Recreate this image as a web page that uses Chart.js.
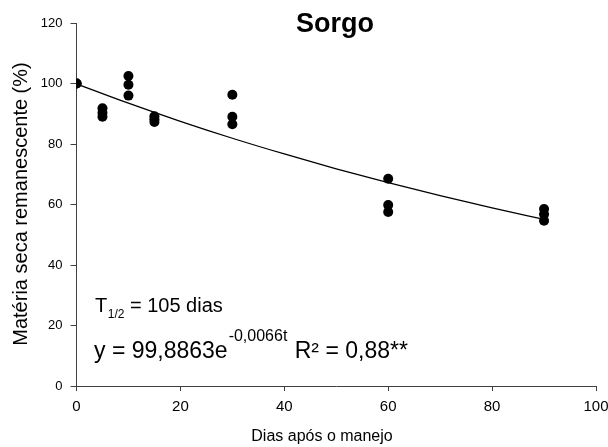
<!DOCTYPE html>
<html>
<head>
<meta charset="utf-8">
<script src="https://cdn.jsdelivr.net/npm/chart.js@4/dist/chart.umd.min.js"></script>
<style>
html,body{margin:0;padding:0;background:#fff;}
#wrap{width:608px;height:447px;position:relative;}
</style>
</head>
<body>
<div id="wrap"><canvas id="c" width="608" height="447"></canvas></div>
<script>
// Data
const dias = [0, 5, 10, 15, 30, 60, 90];
const rep1 = [100, 91.8, 102.5, 89.2, 96.3, 68.5, 58.5];
const rep2 = [100, 90.3, 99.6, 88.2, 89.0, 59.8, 56.8];
const rep3 = [100, 89.0, 96.0, 87.3, 86.5, 57.5, 54.6];
// Fitted curve (y = 99,8863e^-0,0066t)
const curveX = [0, 10, 20, 30, 40, 50, 60, 70, 80, 90];
const curveY = [99.9, 93.5, 87.5, 81.9, 76.7, 71.8, 67.2, 62.9, 58.9, 55.1];
const xTicks = [0, 20, 40, 60, 80, 100];
const yTicks = [0, 20, 40, 60, 80, 100, 120];

const titleText = 'Sorgo';
const xTitle = 'Dias após o manejo';
const yTitle = 'Matéria seca remanescente (%)';

const FONT = '"Liberation Sans", Arial, sans-serif';

const points = [];
[rep1, rep2, rep3].forEach(r => r.forEach((v, i) => points.push({x: dias[i], y: v})));
const curve = curveX.map((x, i) => ({x: x, y: curveY[i]}));

const textPlugin = {
  id: 'texts',
  afterDraw(chart) {
    const ctx = chart.ctx;
    ctx.save();
    ctx.fillStyle = '#000';
    ctx.textBaseline = 'alphabetic';
    // title
    ctx.font = 'bold 27px ' + FONT;
    ctx.textAlign = 'center';
    ctx.fillText(titleText, 335, 32);
    // x title
    ctx.font = '16px ' + FONT;
    ctx.fillText(xTitle, 322, 441);
    // y title
    ctx.save();
    ctx.translate(27, 204);
    ctx.rotate(-Math.PI / 2);
    ctx.font = '20px ' + FONT;
    ctx.fillText(yTitle, 0, 0);
    ctx.restore();
    // T1/2 line
    ctx.textAlign = 'left';
    let x = 95;
    ctx.font = '20px ' + FONT;
    ctx.fillText('T', x, 312);
    x += ctx.measureText('T').width + 0.5;
    ctx.font = '12px ' + FONT;
    ctx.fillText('1/2', x, 318);
    x += ctx.measureText('1/2').width;
    ctx.font = '20px ' + FONT;
    ctx.fillText(' = 105 dias', x, 312);
    // equation
    x = 94;
    ctx.font = '23px ' + FONT;
    ctx.fillText('y = 99,8863e', x, 358);
    x += ctx.measureText('y = 99,8863e').width + 1;
    ctx.font = '16px ' + FONT;
    ctx.fillText('-0,0066t', x, 341);
    x += ctx.measureText('-0,0066t').width + 1;
    ctx.font = '23px ' + FONT;
    ctx.fillText(' R² = 0,88**', x, 358);
    ctx.restore();
  }
};

new Chart(document.getElementById('c'), {
  type: 'scatter',
  data: {
    datasets: [
      {
        data: curve,
        showLine: true,
        borderColor: '#000',
        borderWidth: 1.3,
        pointRadius: 0,
        fill: false,
        cubicInterpolationMode: 'monotone',
        order: 2
      },
      {
        data: points,
        backgroundColor: '#000',
        borderColor: '#000',
        pointRadius: 5,
        pointBorderWidth: 0,
        order: 1
      }
    ]
  },
  options: {
    responsive: false,
    animation: false,
    events: [],
    layout: {padding: {left: 0, right: 12, top: 23, bottom: 0}},
    plugins: {legend: {display: false}, tooltip: {enabled: false}, title: {display: false}},
    scales: {
      x: {
        type: 'linear',
        min: 0, max: 100,
        afterBuildTicks: s => { s.ticks = xTicks.map(v => ({value: v})); },
        afterFit: s => { s.height = 61; s.paddingRight = 0; s.paddingLeft = 0; },
        border: {display: true, color: '#404040', width: 1},
        grid: {display: true, drawOnChartArea: false, drawTicks: true, tickLength: 5, tickColor: '#404040'},
        ticks: {color: '#000', font: {family: FONT, size: 15}, padding: 7, maxRotation: 0}
      },
      y: {
        type: 'linear',
        min: 0, max: 120,
        afterBuildTicks: s => { s.ticks = yTicks.map(v => ({value: v})); },
        afterFit: s => { s.width = 76.5; },
        border: {display: true, color: '#404040', width: 1},
        grid: {display: true, drawOnChartArea: false, drawTicks: true, tickLength: 6, tickColor: '#404040'},
        ticks: {color: '#000', font: {family: FONT, size: 13}, padding: 8}
      }
    }
  },
  plugins: [textPlugin]
});
</script>
</body>
</html>
